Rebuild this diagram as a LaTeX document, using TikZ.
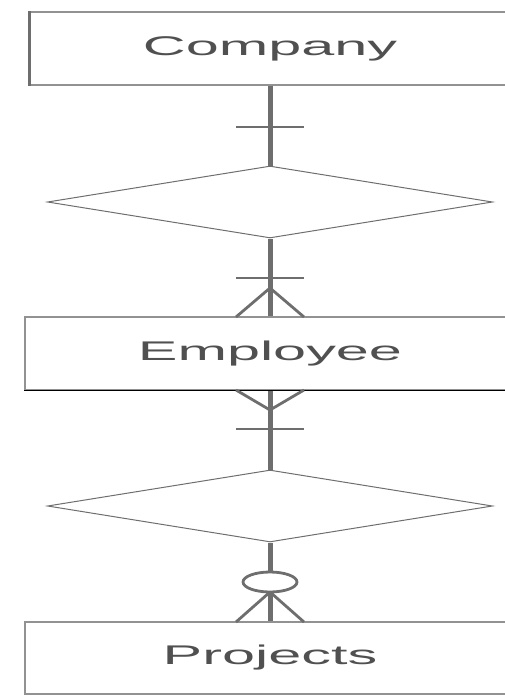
\documentclass[tikz,border=0pt]{standalone}
\usepackage{fontspec}
\setmainfont{Liberation Sans}
\usetikzlibrary{shapes.geometric}
\definecolor{erline}{RGB}{110,110,110}
\definecolor{ertext}{RGB}{80,80,80}
\newcommand{\erlabel}[1]{\scalebox{2.2}[1]{#1}}

\begin{document}
\begin{tikzpicture}[x=1pt,y=-1pt,
    entity/.style={draw=erline!75,line width=1.3pt,minimum width=490pt,minimum height=73pt,
      inner sep=0pt,text=ertext,font=\fontsize{27}{27}\selectfont},
    relation/.style={diamond,draw=erline,line width=1pt,minimum width=445pt,
      minimum height=72pt,inner sep=0pt},
    conn/.style={line width=5pt,erline},
    erbar/.style={line width=2pt,erline},
    erfoot/.style={line width=2.8pt,erline}]
  \clip (0,0) rectangle (505,696);
  \node[entity,minimum width=480pt] (company) at (270,48.5) {\erlabel{Company}};
  \node[relation] (works) at (270,202) {};
  \node[entity] (employee) at (270,353.5) {\erlabel{Employee}};
  \node[relation] (assigned) at (270,506) {};
  \node[entity,minimum height=72pt] (projects) at (270,658) {\erlabel{Projects}};
  \draw[line width=2.5pt,erline] (company.north west) -- (company.south west);
  \draw[line width=1.5pt,black] (employee.south west) -- (employee.south east);
  \draw[conn] (company) -- (works);
  \draw[conn] (works) -- (employee);
  \draw[conn] (employee) -- (assigned);
  \draw[conn] (assigned) -- (projects);
  \foreach \y in {127,278,429}
    \draw[erbar] (236,\y) -- (304,\y);
  \draw[erfoot] (236,317) -- (270,288) -- (304,317);
  \draw[erfoot] (236,390) -- (270,410) -- (304,390);
  \draw[erfoot] (236,622) -- (270,592) -- (304,622);
  \draw[erfoot,fill=white] (270,582) ellipse (27pt and 10pt);
\end{tikzpicture}
\end{document}
